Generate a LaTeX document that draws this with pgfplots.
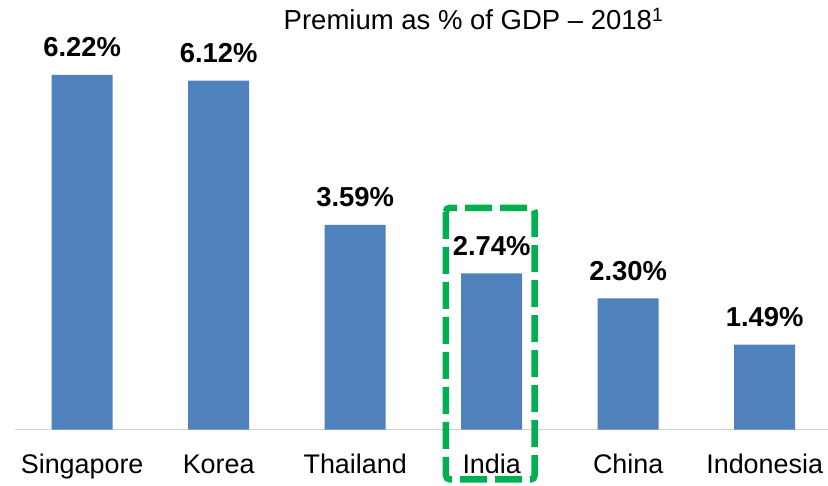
\documentclass[border=0pt]{standalone}
\usepackage{pgfplots}
\pgfplotsset{compat=1.18}
\usepackage{fontspec}
\setmainfont{Liberation Sans}
\definecolor{barblue}{HTML}{4F81BD}
\definecolor{boxgreen}{HTML}{00B050}
\begin{document}
\begin{tikzpicture}
\begin{axis}[
 scale only axis, width=813bp, height=420bp,
 xmin=-0.492, xmax=5.464, ymin=0, ymax=7.368,
 hide y axis, axis x line*=bottom,
 x axis line style={draw=black!18, line width=1.5bp, -},
 xtick={0,...,5}, xticklabels={Singapore,Korea,Thailand,India,China,Indonesia},
 major tick length=0pt,
 xticklabel style={anchor=base, yshift=-43.5bp, inner sep=0pt, font=\fontsize{27}{32}\selectfont},
 ybar, bar width=61bp,
 /pgf/number format/assume math mode=true,
 nodes near coords={\pgfmathprintnumber[fixed,fixed zerofill,precision=2]{\pgfplotspointmeta}\%},
 nodes near coords style={font=\bfseries\fontsize{27.5}{32}\selectfont, anchor=base, inner sep=0pt, yshift=18bp},
 clip=false,
]
\addplot[fill=barblue, draw=none] coordinates {(0,6.22)(1,6.12)(2,3.59)(3,2.74)(4,2.30)(5,1.49)};
\draw[boxgreen, line width=6.5bp, dash pattern=on 27bp off 8bp, rounded corners=4bp] (axis cs:2.665,3.89) rectangle (axis cs:3.315,-0.876);
\end{axis}
\node[anchor=base, inner sep=0pt, font=\fontsize{27.6}{32}\selectfont] at ([shift={(458.5bp,399.5bp)}]current axis.south west) {Premium as \% of GDP -- 2018\textsuperscript{1}};
\pgfresetboundingbox
\path ([shift={(-15bp,-56.5bp)}]current axis.south west) rectangle ++(828bp,486bp);
\end{tikzpicture}
\end{document}
